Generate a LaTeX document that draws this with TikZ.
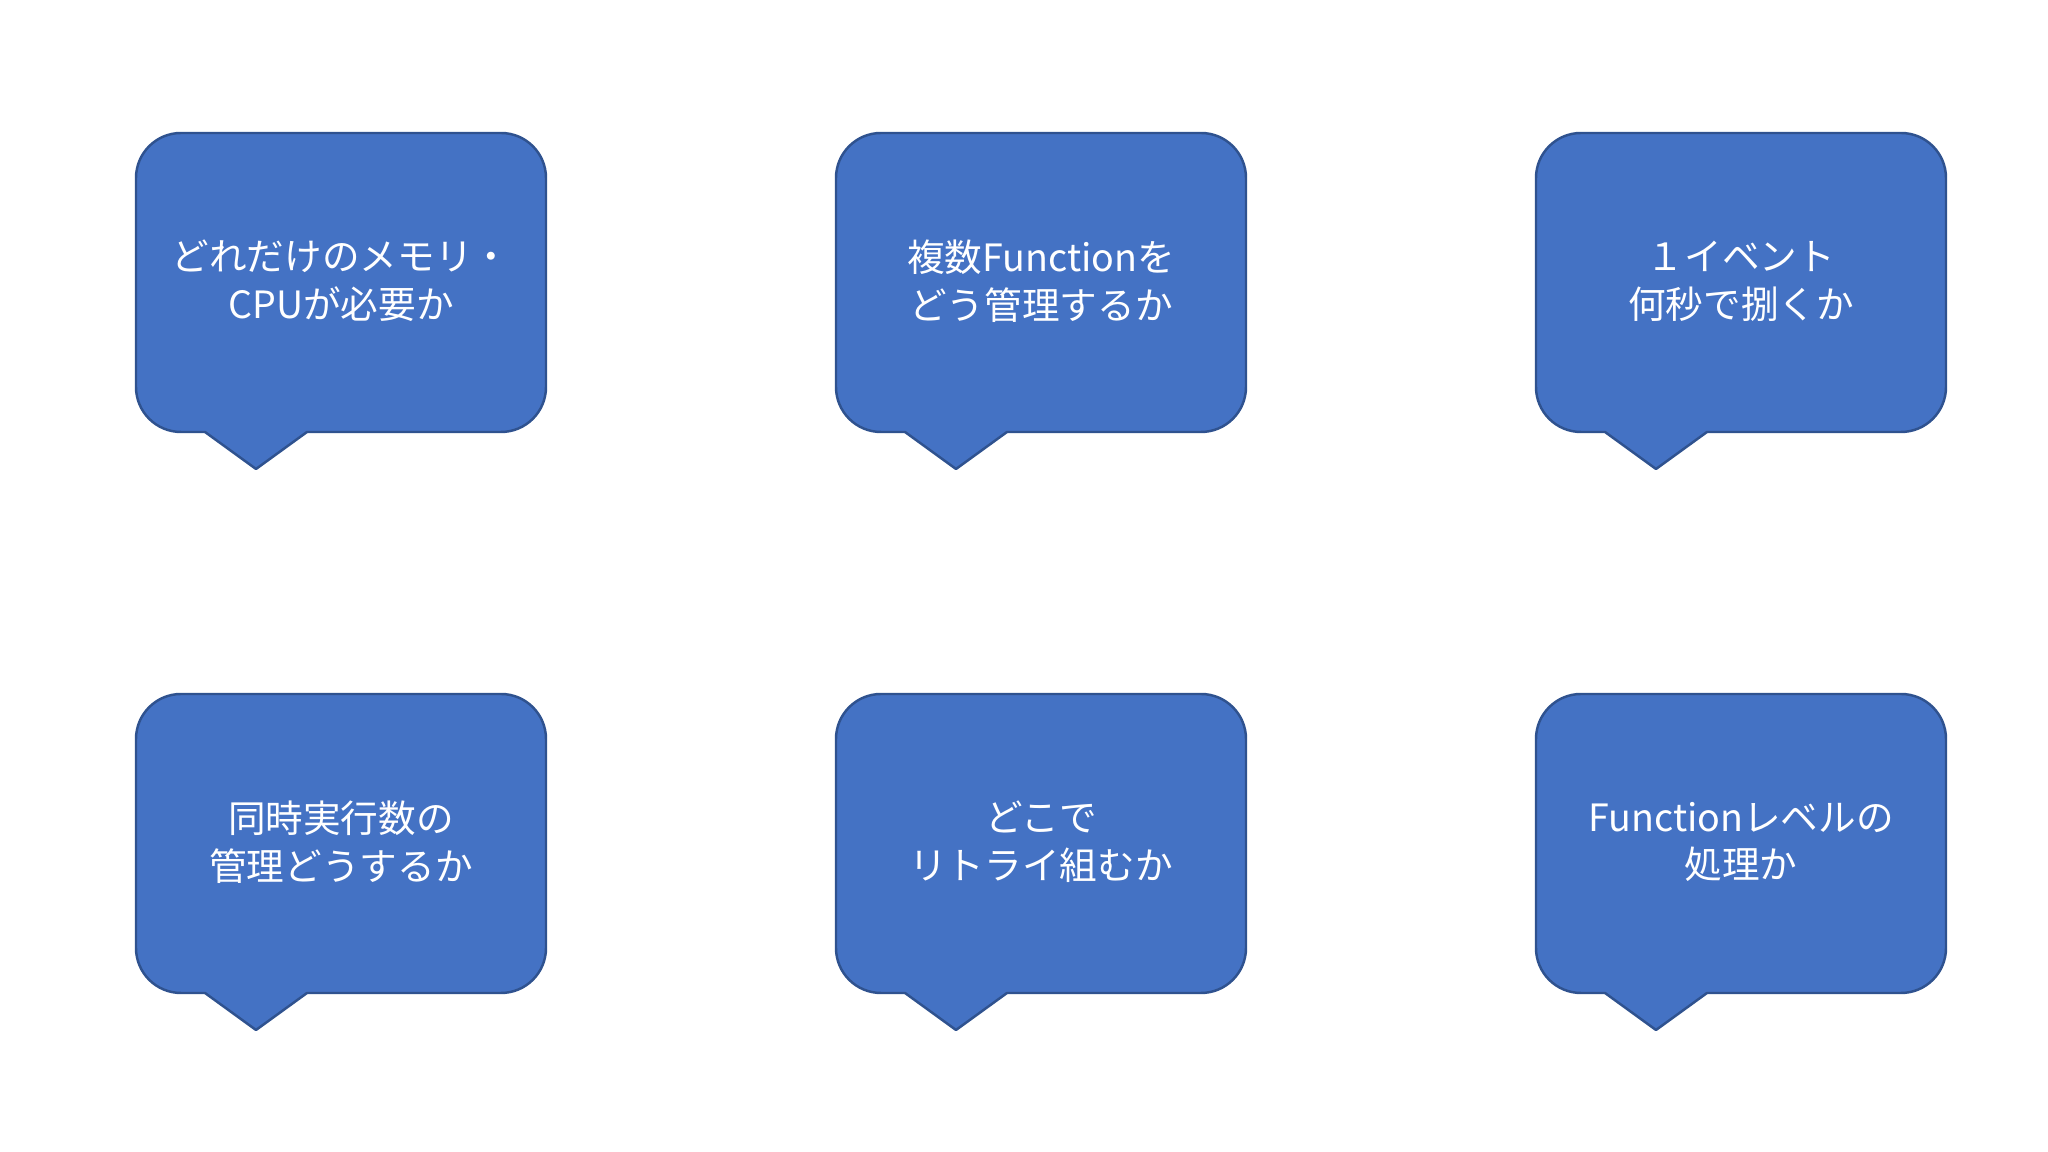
\documentclass[tikz,border=0pt]{standalone}
\usepackage{fontspec}
\setmainfont{Noto Sans CJK JP}
\definecolor{bubblefill}{HTML}{4472C4}
\definecolor{bubbleline}{HTML}{2F528F}
\begin{document}
\begin{tikzpicture}
\tikzstyle{bubble} = [fill=bubblefill, draw=bubbleline, line width=0.7pt, line join=round]
\tikzstyle{bubbletext} = [text=white, align=center, inner sep=0pt, font=\fontsize{10.7}{13.6}\selectfont]
\fill[white] (0,0) rectangle (20.48,11.52);
\useasboundingbox (0,0) rectangle (20.48,11.52);
\foreach \x/\y/\name/\txt in {
  1.36/10.19/memcpu/{どれだけのメモリ・\\CPUが必要か},
  8.36/10.19/manage/{複数Functionを\\どう管理するか},
  15.36/10.19/persec/{１イベント\\何秒で捌くか},
  1.36/4.58/concur/{同時実行数の\\管理どうするか},
  8.36/4.58/retry/{どこで\\リトライ組むか},
  15.36/4.58/level/{Functionレベルの\\処理か}}
{
  \begin{scope}[shift={(\x,\y)}]
    \draw[bubble] (1.71,-2.99) [rounded corners=4.5mm] -- (4.10,-2.99) -- (4.10,0) -- (0,0)
      -- (0,-2.99) [sharp corners] -- (0.69,-2.99) -- (1.20,-3.36) -- cycle;
    \node[bubbletext] (\name) at (2.05,-1.48) {\txt};
  \end{scope}
}
\end{tikzpicture}
\end{document}
